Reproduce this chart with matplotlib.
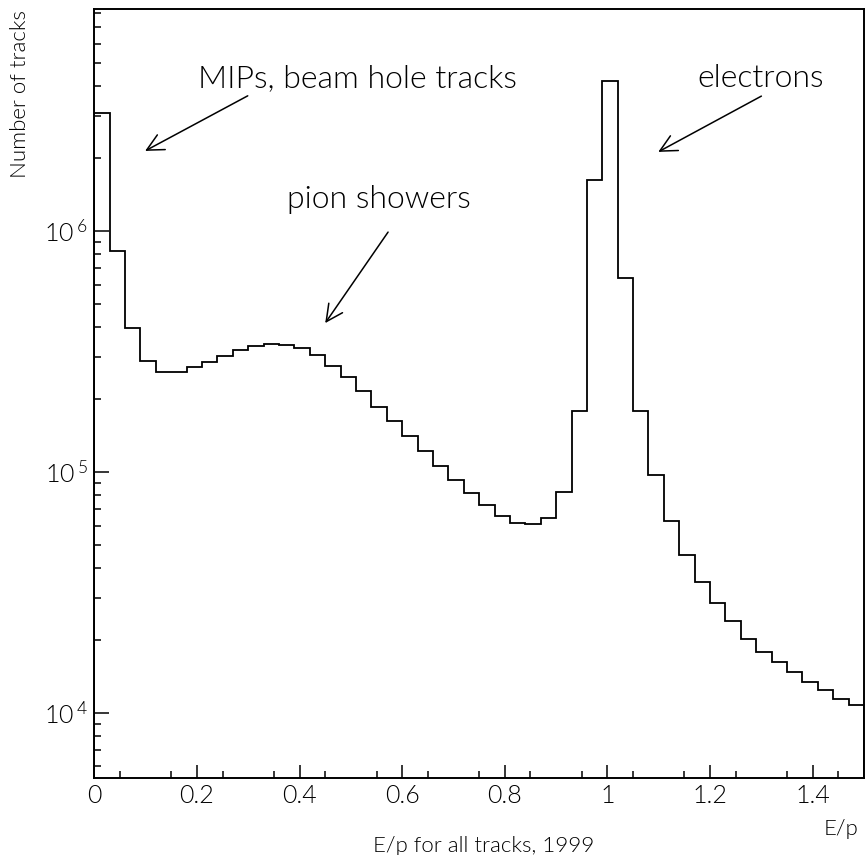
import numpy as np
import matplotlib
matplotlib.use("Agg")
import matplotlib.pyplot as plt
from matplotlib.ticker import FixedLocator, LogLocator, NullFormatter, FuncFormatter

# E/p histogram, 50 bins from 0 to 1.5
bin_edges = np.linspace(0.0, 1.5, 51)
counts = [
    3.08e6, 8.26e5, 3.95e5, 2.90e5, 2.61e5, 2.61e5, 2.72e5, 2.85e5, 3.03e5, 3.21e5,
    3.33e5, 3.39e5, 3.36e5, 3.26e5, 3.06e5, 2.76e5, 2.48e5, 2.17e5, 1.87e5, 1.63e5,
    1.41e5, 1.22e5, 1.06e5, 9.27e4, 8.16e4, 7.28e4, 6.59e4, 6.16e4, 6.09e4, 6.44e4,
    8.26e4, 1.79e5, 1.63e6, 4.21e6, 6.37e5, 1.79e5, 9.73e4, 6.24e4, 4.53e4, 3.50e4,
    2.87e4, 2.40e4, 2.03e4, 1.80e4, 1.63e4, 1.48e4, 1.34e4, 1.25e4, 1.14e4, 1.08e4,
]

x_ticks = [0, 0.2, 0.4, 0.6, 0.8, 1.0, 1.2, 1.4]

# (label, text anchor, arrow tail, arrow head) in data coords
notes = [
    ("MIPs, beam hole tracks", (0.202, 3.97e6), (0.299, 3.64e6), (0.099, 2.15e6)),
    ("pion showers", (0.376, 1.25e6), (0.5725, 0.99e6), (0.450, 4.15e5)),
    ("electrons", (1.176, 3.97e6), (1.300, 3.63e6), (1.099, 2.13e6)),
]

plt.rcParams["font.family"] = ["Lato", "DejaVu Sans"]
plt.rcParams["font.weight"] = 300
plt.rcParams["mathtext.default"] = "regular"
plt.rcParams["text.color"] = "black"

fig = plt.figure(figsize=(8.65, 8.55), dpi=100)
ax = fig.add_axes([94.3 / 865, 1 - 778.3 / 855, (864 - 94.3) / 865, (778.3 - 9.3) / 855])

ax.stairs(counts, bin_edges, color="black", lw=1.3)

ax.set_yscale("log")
ax.set_xlim(0, 1.5)
ax.set_ylim(5.36e3, 8.32e6)

for s in ax.spines.values():
    s.set_linewidth(1.4)

ax.xaxis.set_major_locator(FixedLocator(x_ticks))
ax.xaxis.set_minor_locator(FixedLocator(np.arange(0.05, 1.5, 0.1)))
ax.xaxis.set_major_formatter(FuncFormatter(lambda v, p: f"{v:g}"))
ax.yaxis.set_major_locator(LogLocator(base=10))
ax.yaxis.set_minor_locator(LogLocator(base=10, subs=np.arange(2, 10)))
ax.yaxis.set_major_formatter(FuncFormatter(lambda v, p: f"$10^{{\\,{int(round(np.log10(v)))}}}$"))
ax.yaxis.set_minor_formatter(NullFormatter())

ax.tick_params(which="both", direction="in", top=False, right=False, width=1.1,
               labelsize=18, labelcolor="black")
ax.tick_params(axis="x", which="major", length=9.5, pad=4)
ax.tick_params(axis="x", which="minor", length=5)
ax.tick_params(axis="y", which="major", length=11, pad=5)
ax.tick_params(axis="y", which="minor", length=5)

for label, txt, tail, head in notes:
    ax.text(txt[0], txt[1], label, fontsize=23, ha="left", va="baseline", color="black")
    ax.annotate("", xy=head, xytext=tail,
                arrowprops=dict(arrowstyle="->,head_length=1.2,head_width=0.6",
                                lw=1.1, color="black", mutation_scale=10,
                                shrinkA=0, shrinkB=0))

fig.text(20 / 865, 1 - 10 / 855, "Number of tracks", rotation=90,
         ha="center", va="top", fontsize=16)
fig.text(858 / 865, 1 - 835 / 855, "E/p", ha="right", va="baseline", fontsize=16)
fig.text(484 / 865, 1 - 851.5 / 855, "E/p for all tracks, 1999", ha="center",
         va="baseline", fontsize=16)

fig.savefig("out.png", dpi=100)
